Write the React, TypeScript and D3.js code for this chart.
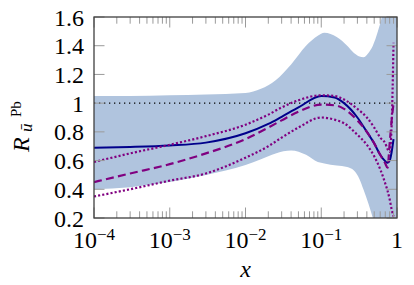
import React from 'react';
import * as d3 from 'd3';

// band (uncertainty envelope)
const bandX = [1e-4, 3e-4, 1e-3, 3e-3, 1e-2, 1.6e-2, 2.5e-2, 4e-2, 6.3e-2, 0.09, 0.11, 0.16, 0.22, 0.27, 0.32, 0.36, 0.42, 0.48, 0.56, 0.63, 0.8, 1];
const bandHigh = [1.05, 1.05, 1.055, 1.06, 1.07, 1.1, 1.16, 1.27, 1.4, 1.47, 1.49, 1.46, 1.4, 1.35, 1.325, 1.32, 1.35, 1.4, 1.5, 1.6, 1.9, 2.2];
const bandLow = [0.4, 0.415, 0.45, 0.5, 0.57, 0.61, 0.65, 0.67, 0.64, 0.59, 0.58, 0.565, 0.555, 0.53, 0.47, 0.4, 0.3, 0.2, 0.08, 0.0, -0.2, -0.3];

// curves
const curveX = [1e-4, 3e-4, 1e-3, 3e-3, 1e-2, 2e-2, 3e-2, 5e-2, 0.1, 0.15, 0.2, 0.3, 0.4, 0.5, 0.6, 0.7, 0.75, 0.8, 0.85, 0.9];
const central = [0.69, 0.695, 0.705, 0.725, 0.79, 0.855, 0.905, 0.97, 1.05, 1.04, 1.0, 0.9, 0.8, 0.72, 0.64, 0.595, 0.585, 0.6, 0.66, 0.75];
const dashedVals = [0.45, 0.51, 0.575, 0.65, 0.75, 0.83, 0.88, 0.94, 0.99, 0.985, 0.96, 0.88, 0.8, 0.72, 0.64, 0.58, 0.55, 0.72, 0.88, 1.0];
const dottedHigh = [0.59, 0.65, 0.71, 0.77, 0.85, 0.92, 0.97, 1.02, 1.055, 1.05, 1.025, 0.96, 0.9, 0.83, 0.76, 0.72, 0.68, 0.66, 0.85, 1.42];
const dottedLow = [0.35, 0.4, 0.46, 0.51, 0.62, 0.7, 0.76, 0.83, 0.9, 0.885, 0.86, 0.78, 0.71, 0.63, 0.54, 0.44, 0.39, 0.33, 0.26, 0.21];

const xMajor = [1e-4, 1e-3, 1e-2, 1e-1, 1];
const xMajorExp = ['−4', '−3', '−2', '−1', ''];
const yTicks = [0.2, 0.4, 0.6, 0.8, 1.0, 1.2, 1.4, 1.6];
const yTickLabels = ['0.2', '0.4', '0.6', '0.8', '1', '1.2', '1.4', '1.6'];

const W = 414;
const H = 285;
const left = 94, right = 397, top = 17, bottom = 218;

export default function App() {
  const x = d3.scaleLog().domain([1e-4, 1]).range([left, right]);
  const y = d3.scaleLinear().domain([0.2, 1.6]).range([bottom, top]);

  // minor ticks 2..9 in every decade
  const xMinor: number[] = [];
  for (let e = -4; e < 0; e++) {
    for (let m = 2; m <= 9; m++) xMinor.push(m * Math.pow(10, e));
  }

  const area = d3.area<number>()
    .x((_, i) => x(bandX[i]))
    .y0((_, i) => y(bandLow[i]))
    .y1((_, i) => y(bandHigh[i]))
    .curve(d3.curveMonotoneX);

  const line = (vals: number[]) =>
    d3.line<number>()
      .x((_, i) => x(curveX[i]))
      .y(d => y(d))
      .curve(d3.curveMonotoneX)(vals) || '';

  const tickColor = '#9a9a9a';

  return (
    <svg width={W} height={H} style={{ position: 'absolute', left: 0, top: 0, background: '#fff' }}>
      <style>{`text, tspan { font-family: 'Liberation Serif', 'Times New Roman', serif; }`}</style>
      <defs>
        <clipPath id="plotclip">
          <rect x={left} y={top} width={right - left} height={bottom - top} />
        </clipPath>
      </defs>
      <g clipPath="url(#plotclip)">
        <path d={area(bandX) || ''} fill="#b0c4de" />
        <line x1={left} x2={right} y1={y(1)} y2={y(1)} stroke="#000" strokeWidth={1.2} strokeDasharray="1.3 3.7" />
        <path d={line(central)} fill="none" stroke="#00008b" strokeWidth={2} />
        <path d={line(dashedVals)} fill="none" stroke="#800080" strokeWidth={2.2} strokeDasharray="8 4.3" />
        <path d={line(dottedHigh)} fill="none" stroke="#800080" strokeWidth={2.2} strokeDasharray="2.1 2.1" />
        <path d={line(dottedLow)} fill="none" stroke="#800080" strokeWidth={2.2} strokeDasharray="2.1 2.1" />
      </g>

      {/* ticks, inward on all four sides */}
      <g stroke={tickColor} strokeWidth={1}>
        {xMinor.map((v, i) => (
          <g key={'mn' + i}>
            <line x1={x(v)} x2={x(v)} y1={bottom} y2={bottom - 6.7} />
            <line x1={x(v)} x2={x(v)} y1={top} y2={top + 6.7} />
          </g>
        ))}
        {xMajor.map((v, i) => (
          <g key={'mj' + i}>
            <line x1={x(v)} x2={x(v)} y1={bottom} y2={bottom - 10.5} />
            <line x1={x(v)} x2={x(v)} y1={top} y2={top + 10.5} />
          </g>
        ))}
        {yTicks.map((v, i) => (
          <g key={'yt' + i}>
            <line x1={left} x2={left + 10.5} y1={y(v)} y2={y(v)} />
            <line x1={right} x2={right - 10.5} y1={y(v)} y2={y(v)} />
          </g>
        ))}
      </g>
      <rect x={left} y={top} width={right - left} height={bottom - top} fill="none" stroke="#404040" strokeWidth={1.3} />

      {/* tick labels */}
      {yTicks.map((v, i) => (
        <text key={'yl' + i} x={left - 10} y={y(v) + 8.5} fontSize={24} textAnchor="end">{yTickLabels[i]}</text>
      ))}
      {xMajor.map((v, i) => (
        <text key={'xl' + i} x={x(v)} y={bottom + 30} fontSize={24} textAnchor="middle">
          {xMajorExp[i] ? (
            <>
              <tspan>10</tspan>
              <tspan dy={-8.5} fontSize={17}>{xMajorExp[i]}</tspan>
            </>
          ) : '1'}
        </text>
      ))}
      <text x={(left + right) / 2} y={277} fontSize={24} fontStyle="italic" textAnchor="middle">x</text>
      <g transform="translate(28.5,152) rotate(-90)">
        <text x={0} y={0} fontSize={24} fontStyle="italic">R</text>
        <text x={20} y={3} fontSize={17} fontStyle="italic">ū</text>
        <text x={35} y={-7.5} fontSize={15}>Pb</text>
      </g>
    </svg>
  );
}
